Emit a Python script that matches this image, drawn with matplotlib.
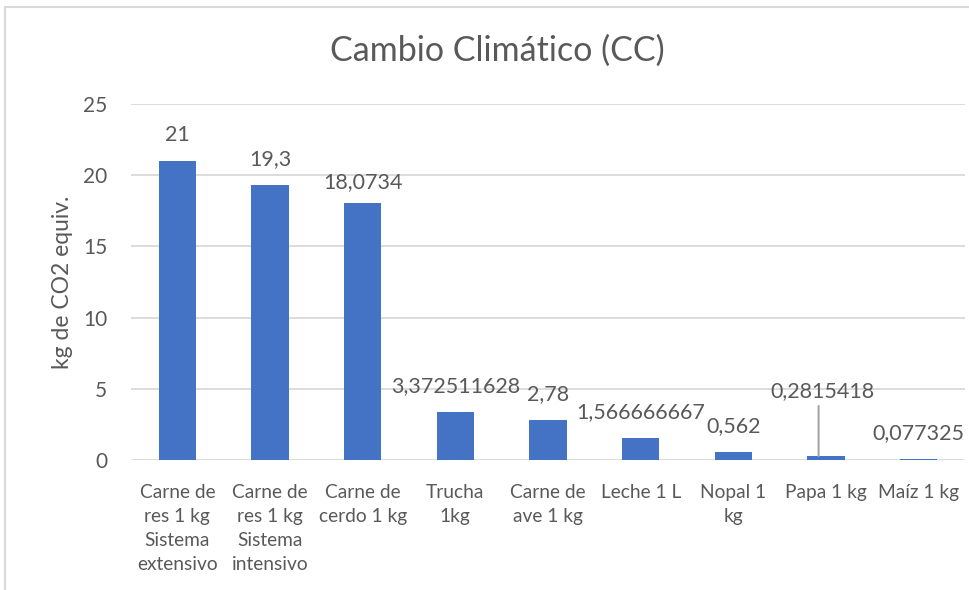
import matplotlib
matplotlib.use("Agg")
import matplotlib.pyplot as plt
from matplotlib.patches import Rectangle

categories = ["Carne de\nres 1 kg\nSistema\nextensivo", "Carne de\nres 1 kg\nSistema\nintensivo",
              "Carne de\ncerdo 1 kg", "Trucha\n1kg", "Carne de\nave 1 kg", "Leche 1 L",
              "Nopal 1\nkg", "Papa 1 kg", "Maíz 1 kg"]
values = [21, 19.3, 18.0734, 3.372511628, 2.78, 1.566666667, 0.562, 0.2815418, 0.077325]
yticks = [0, 5, 10, 15, 20, 25]
title = "Cambio Climático (CC)"
ylabel = "kg de CO2 equiv."

TXT = "#595959"
BLUE = "#4472C4"
plt.rcParams['font.family'] = ['Lato', 'DejaVu Sans']

fig = plt.figure(figsize=(9.69, 5.90), dpi=100)
W, H = 969, 590
ax = fig.add_axes([131 / W, 1 - 460 / H, (965 - 131) / W, (460 - 104) / H])

x = list(range(len(categories)))
ax.bar(x, values, width=0.4, color=BLUE, zorder=3)
ax.set_xlim(-0.5, len(categories) - 0.5)
ax.set_ylim(0, 25)
ax.set_yticks(yticks)
ax.set_yticklabels([str(t) for t in yticks], fontsize=15, color=TXT)
ax.set_xticks(x)
ax.set_xticklabels(categories, fontsize=13.8, color=TXT, linespacing=1.5, va='top')
ax.tick_params(axis='both', length=0)
ax.tick_params(axis='y', pad=17)
ax.tick_params(axis='x', pad=17)
ax.grid(axis='y', color='#D9D9D9', linewidth=1.3, zorder=0)
ax.set_axisbelow(True)
for s in ax.spines.values():
    s.set_visible(False)

ax.set_ylabel(ylabel, fontsize=16.5, color=TXT, labelpad=7)
fig.text(497 / W, 1 - 51 / H, title, ha='center', va='center', fontsize=24.5, color=TXT)

for i, v in enumerate(values):
    lab = f"{v:.10g}".replace('.', ',')
    if i == 7:
        ax.annotate(lab, xy=(i, v), xytext=(-4, 65), textcoords='offset pixels',
                    ha='center', va='center', fontsize=15.5, color=TXT)
        # leader line for the moved label
        ax.annotate("", xy=(i - 0.08, v), xytext=(0, 50), textcoords='offset pixels',
                    arrowprops=dict(arrowstyle='-', color='#A6A6A6', lw=1.5,
                                    shrinkA=0, shrinkB=0))
    else:
        off = 21 if i == 2 else 26
        ax.annotate(lab, xy=(i, v), xytext=(0, off), textcoords='offset pixels',
                    ha='center', va='center', fontsize=15.5, color=TXT)

fig.add_artist(Rectangle((5 / W, -0.1), 1.2, (H - 7) / H + 0.1, transform=fig.transFigure,
                         fill=False, edgecolor='#D9D9D9', linewidth=1.5))

fig.savefig("out.png", dpi=100, facecolor='white')
